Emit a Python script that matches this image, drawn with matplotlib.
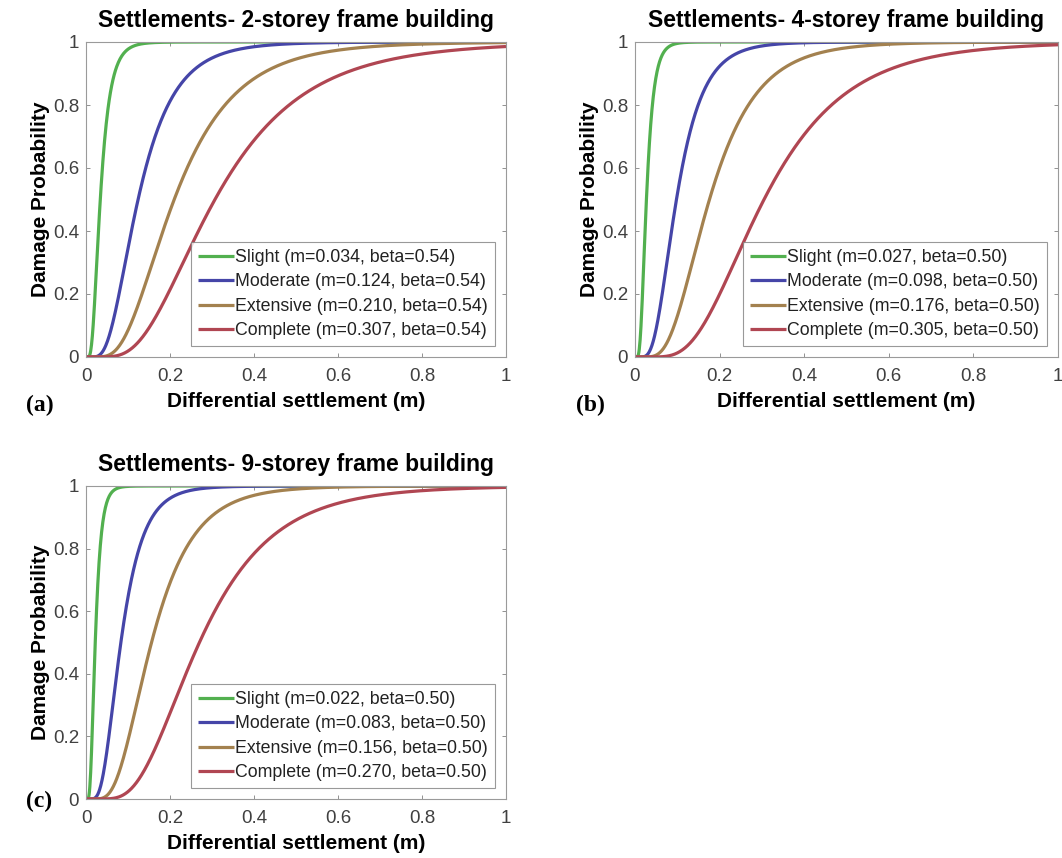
import math
import numpy as np
import matplotlib
matplotlib.use("Agg")
import matplotlib.pyplot as plt

plt.rcParams['font.family'] = ['Liberation Sans', 'DejaVu Sans']

titles = ["Settlements- 2-storey frame building",
          "Settlements- 4-storey frame building",
          "Settlements- 9-storey frame building"]
panel_labels = ["(a)", "(b)", "(c)"]
states = ["Slight", "Moderate", "Extensive", "Complete"]
medians = [[0.034, 0.124, 0.210, 0.307],
           [0.027, 0.098, 0.176, 0.305],
           [0.022, 0.083, 0.156, 0.270]]
betas = [[0.54, 0.54, 0.54, 0.54],
         [0.50, 0.50, 0.50, 0.50],
         [0.50, 0.50, 0.50, 0.50]]
colors = ["#52b04f", "#4545a8", "#a3814f", "#b04652"]
xticks = [0, 0.2, 0.4, 0.6, 0.8, 1]
xticklabels = ["0", "0.2", "0.4", "0.6", "0.8", "1"]
yticks = [0, 0.2, 0.4, 0.6, 0.8, 1]
yticklabels = ["0", "0.2", "0.4", "0.6", "0.8", "1"]

W, H = 1062, 858
fig = plt.figure(figsize=(W / 100, H / 100), dpi=100)

# axes boxes in pixels: left, top, right, bottom
boxes = [(86, 42, 506, 357), (635, 42, 1058, 357), (86, 486, 506, 799)]
label_pos = [(26, 405), (576, 405), (26, 801)]

x = np.linspace(1e-4, 1.0, 1000)
erf = np.vectorize(math.erf)


def lognorm_cdf(xv, m, b):
    return 0.5 * (1 + erf(np.log(xv / m) / (b * math.sqrt(2))))


gray = "#404040"
for i in range(3):
    l, t, r, btm = boxes[i]
    ax = fig.add_axes([l / W, 1 - btm / H, (r - l) / W, (btm - t) / H])
    for j in range(4):
        y = lognorm_cdf(x, medians[i][j], betas[i][j])
        lab = f"{states[j]} (m={medians[i][j]:.3f}, beta={betas[i][j]:.2f})"
        ax.plot(x, y, color=colors[j], lw=2.3, label=lab, solid_capstyle='butt')
    ax.set_xlim(0, 1)
    ax.set_ylim(0, 1)
    ax.set_xticks(xticks)
    ax.set_xticklabels(xticklabels)
    ax.set_yticks(yticks)
    ax.set_yticklabels(yticklabels)
    ax.tick_params(direction='in', length=3, width=0.6, colors="#808080",
                   labelcolor=gray, labelsize=13.5, top=True, right=True)
    ax.tick_params(axis='x', pad=8)
    ax.tick_params(axis='y', pad=5)
    for s in ax.spines.values():
        s.set_color("#9a9a9a")
        s.set_linewidth(0.8)
    ax.set_title(titles[i], fontsize=16.5, fontweight='bold', pad=11)
    ax.set_xlabel("Differential settlement (m)", fontsize=15, fontweight='bold', labelpad=5)
    ax.set_ylabel("Damage Probability", fontsize=15, fontweight='bold', labelpad=2)
    leg = ax.legend(loc='lower right', fontsize=12.8, frameon=True, fancybox=False,
                    edgecolor="#808080", handlelength=2.0, handletextpad=0.1,
                    borderpad=0.4, labelspacing=0.42, borderaxespad=0.6)
    leg.get_frame().set_linewidth(0.8)
    for txt in leg.get_texts():
        txt.set_color("#222222")
    lx, ly = label_pos[i]
    fig.text(lx / W, 1 - ly / H, panel_labels[i], fontsize=17, fontweight='bold',
             family=['Liberation Serif', 'DejaVu Serif'], va='center', ha='left')

fig.savefig("out.png", dpi=100, facecolor='white')
